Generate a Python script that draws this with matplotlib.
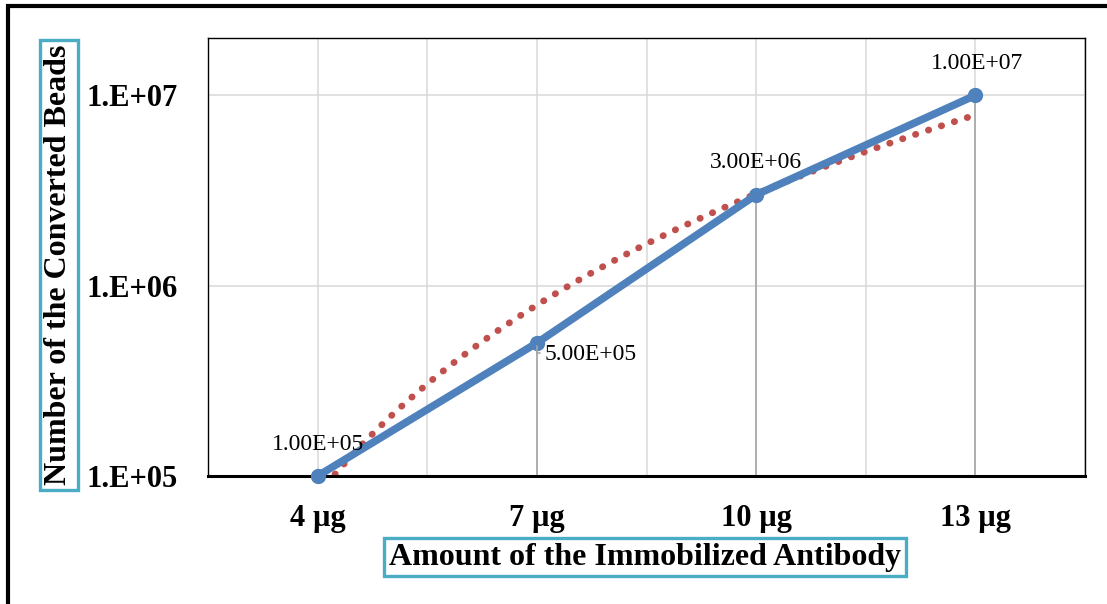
import matplotlib
matplotlib.use('Agg')
import matplotlib.pyplot as plt
from matplotlib.patches import Rectangle
import numpy as np

# Data
amounts = ['4 µg', '7 µg', '10 µg', '13 µg']
beads = [1e5, 5e5, 3e6, 1e7]
point_labels = ['1.00E+05', '5.00E+05', '3.00E+06', '1.00E+07']
y_ticks = [1e5, 1e6, 1e7]
y_tick_labels = ['1.E+05', '1.E+06', '1.E+07']

BLUE = '#4F81BD'
RED = '#C0504D'
TEAL = '#4BACC6'

plt.rcParams['font.family'] = ['Liberation Serif', 'DejaVu Serif']

fig = plt.figure(figsize=(11.07, 6.04), dpi=100)
ax = fig.add_axes([208 / 1107, 1 - 476 / 604, (1085 - 208) / 1107, (476 - 38) / 604])

x = np.arange(len(amounts))
ax.set_yscale('log')
ax.set_xlim(-0.5, len(amounts) - 0.5)
ax.set_ylim(1e5, 2e7)

# grid lines (category centres and between)
for gx in np.arange(-0.5, len(amounts), 0.5):
    ax.axvline(gx, color='#D9D9D9', lw=1.1, zorder=0)
for gy in y_ticks[1:]:
    ax.axhline(gy, color='#D9D9D9', lw=1.1, zorder=0)

# drop lines
ax.vlines(x, 1e5, beads, color='#A6A6A6', lw=1.2, zorder=1)

# power trendline (Excel style: fit on category index 1..n)
idx = x + 1
b, a = np.polyfit(np.log(idx), np.log10(beads), 1)
tx = np.linspace(1, len(amounts), 300)
ty = 10 ** (a + b * np.log(tx))
ax.plot(tx - 1, ty, color=RED, lw=4.9, linestyle=(0, (0.05, 1.95)),
        dash_capstyle='round', zorder=2)

ax.plot(x, beads, color=BLUE, lw=5.5, marker='o', markersize=10,
        solid_capstyle='round', zorder=3, clip_on=False)

# data labels
offsets = [(0, 32, 'center'), (8, -12, 'left'), (0, 32, 'center'), (2, 32, 'center')]
for xi, yi, lab, (dx, dy, ha) in zip(x, beads, point_labels, offsets):
    ax.annotate(lab, (xi, yi), xytext=(dx, dy), textcoords='offset pixels',
                ha=ha, va='center', fontsize=17, zorder=4)
# leader line of the 5.00E+05 label
ax.annotate('', (x[1], beads[1]), xytext=(6, -10), textcoords='offset pixels',
            arrowprops=dict(arrowstyle='-', color='#A6A6A6', lw=1.2,
                            connectionstyle='angle,angleA=0,angleB=90,rad=0'))

ax.set_yticks(y_ticks)
ax.set_yticklabels(y_tick_labels, fontsize=22, fontweight='bold')
ax.yaxis.set_minor_locator(matplotlib.ticker.NullLocator())
ax.set_xticks(x)
ax.set_xticklabels(amounts, fontsize=22, fontweight='bold')
ax.tick_params(axis='both', length=0)
ax.tick_params(axis='y', pad=22)
ax.tick_params(axis='x', pad=20)

for side in ['left', 'top', 'right']:
    ax.spines[side].set_linewidth(1.0)
    ax.spines[side].set_color('black')
ax.spines['bottom'].set_linewidth(2.2)

# axis titles in teal boxes
box = dict(boxstyle='square,pad=0.15', facecolor='white', edgecolor=TEAL, linewidth=2.4)
fig.text(645 / 1107, 1 - 557 / 604, 'Amount of the Immobilized Antibody',
         fontsize=23, fontweight='bold', ha='center', va='center', bbox=box)
fig.text(59 / 1107, 1 - 265 / 604, 'Number of the Converted Beads',
         fontsize=23, fontweight='bold', ha='center', va='center',
         rotation=90, bbox=box)

# outer chart border (cropped at right and bottom)
fig.patches.append(Rectangle((8 / 1107, -0.1), 1.2, 1.1 - 6 / 604,
                             transform=fig.transFigure, fill=False,
                             edgecolor='black', linewidth=3))

fig.savefig('out.png', dpi=100, facecolor='white')
